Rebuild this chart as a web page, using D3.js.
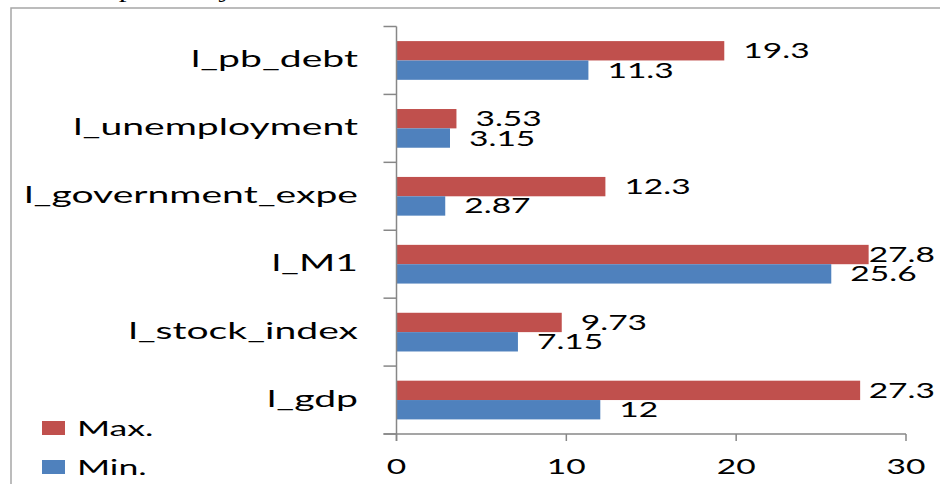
<!DOCTYPE html>
<html>
<head>
<meta charset="utf-8">
<script src="https://cdn.jsdelivr.net/npm/d3@7"></script>
<style>
  html, body { margin: 0; padding: 0; background: #ffffff; }
  svg { display: block; }
</style>
</head>
<body>
<svg id="chart" width="940" height="484"></svg>
<script>
// ---- data ----
const categories = ["l_pb_debt", "l_unemployment", "l_government_expe", "l_M1", "l_stock_index", "l_gdp"];
const seriesNames = ["Max.", "Min."];
const maxValues = [19.3, 3.53, 12.3, 27.8, 9.73, 27.3];
const minValues = [11.3, 3.15, 2.87, 25.6, 7.15, 12];
const xTicks = [0, 10, 20, 30];
const valueLabelsMax = ["19.3", "3.53", "12.3", "27.8", "9.73", "27.3"];
const valueLabelsMin = ["11.3", "3.15", "2.87", "25.6", "7.15", "12"];

const seriesValues = [maxValues, minValues];
const seriesLabels = [valueLabelsMax, valueLabelsMin];
const colors = ["#C0504D", "#4F81BD"];

// ---- styling ----
const FONT = "Lato, 'Open Sans', 'DejaVu Sans', sans-serif";
const axisColor = "#878787";

const svg = d3.select("#chart");

// frame
svg.append("rect")
  .attr("x", 11).attr("y", 8)
  .attr("width", 1000).attr("height", 600)
  .attr("fill", "none").attr("stroke", "#a6a6a6").attr("stroke-width", 1.5);

// cut-off document text above the frame
svg.append("text")
  .attr("transform", `translate(82,-3.5) scale(1.5,1)`)
  .attr("font-family", "'Liberation Serif', serif")
  .attr("font-size", 21)
  .attr("fill", "#000")
  .text("respectively.");

const x = d3.scaleLinear().domain([0, 30]).range([396.5, 906]);
const y = d3.scaleBand().domain(categories).range([26.5, 434]).padding(0);
const bw = y.bandwidth();
const ySub = d3.scaleBand().domain(seriesNames).range([bw * 0.215, bw * 0.785]).padding(0);

function stretchedText(g, tx, ty, str, size, anchor, sx) {
  return g.append("text")
    .attr("transform", `translate(${tx},${ty}) scale(${sx},1)`)
    .attr("text-anchor", anchor)
    .attr("font-family", FONT)
    .attr("font-size", size)
    .attr("fill", "#000")
    .text(str);
}

// bars
const gBars = svg.append("g");
seriesNames.forEach((s, si) => {
  gBars.selectAll(null)
    .data(categories)
    .enter().append("rect")
    .attr("x", x(0))
    .attr("y", (c) => y(c) + ySub(s))
    .attr("width", (c, i) => x(seriesValues[si][i]) - x(0))
    .attr("height", ySub.bandwidth())
    .attr("fill", colors[si]);
});

// axes
const gAxis = svg.append("g").attr("stroke", axisColor).attr("stroke-width", 1.5).attr("fill", "none");
gAxis.append("line").attr("x1", x(0)).attr("x2", x(0)).attr("y1", y.range()[0]).attr("y2", y.range()[1] + 7);
gAxis.append("line").attr("x1", x(0) - 13).attr("x2", x(30)).attr("y1", y.range()[1]).attr("y2", y.range()[1]);
const bounds = categories.map((c) => y(c)).concat([y.range()[1]]);
bounds.forEach((b) => {
  gAxis.append("line").attr("x1", x(0) - 13).attr("x2", x(0)).attr("y1", b).attr("y2", b);
});
xTicks.forEach((t) => {
  gAxis.append("line").attr("x1", x(t)).attr("x2", x(t)).attr("y1", y.range()[1]).attr("y2", y.range()[1] + 7);
});

const gText = svg.append("g");
// x tick labels
xTicks.forEach((t) => {
  stretchedText(gText, x(t), 474, String(t), 21, "middle", 1.6);
});

// category labels
categories.forEach((c) => {
  stretchedText(gText, 358, y(c) + bw / 2 + 7, c, 23, "end", 1.7);
});

// value labels
const rightLimit = 935;
seriesNames.forEach((s, si) => {
  categories.forEach((c, i) => {
    const v = seriesValues[si][i];
    const yc = y(c) + ySub(s) + ySub.bandwidth() / 2 + 7.5;
    const t = stretchedText(gText, 0, yc, seriesLabels[si][i], 21, "start", 1.6);
    const w = t.node().getComputedTextLength() * 1.6;
    let tx = x(v) + 19;
    if (tx + w > rightLimit) tx = rightLimit - w;
    t.attr("transform", `translate(${tx},${yc}) scale(1.6,1)`);
  });
});

// legend
const legendY = [421, 460];
seriesNames.forEach((s, si) => {
  svg.append("rect")
    .attr("x", 42).attr("y", legendY[si])
    .attr("width", 23).attr("height", 14)
    .attr("fill", colors[si]);
  stretchedText(gText, 77, legendY[si] + 14.5, s, 21, "start", 1.7);
});
</script>
</body>
</html>
